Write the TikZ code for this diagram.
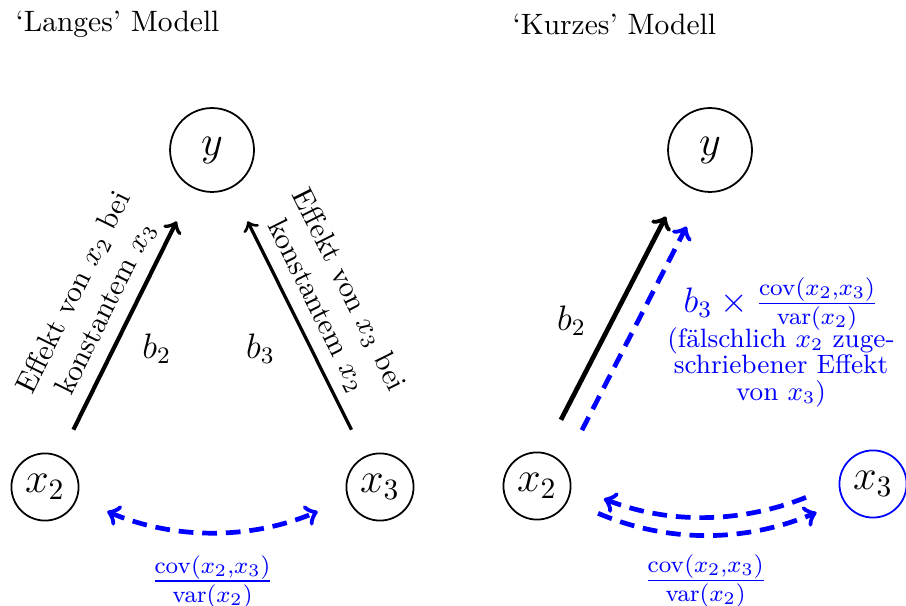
\documentclass[tikz,border=0pt]{standalone}
\usepackage{amsmath}
\usetikzlibrary{positioning}
\definecolor{colCov}{RGB}{0,0,255}
\tikzset{
  % circles for the variables
  varNode/.style={circle, draw, semithick, font=\Large,
                  minimum size=0.8cm, inner sep=2pt},
  varY/.style={varNode, minimum size=1cm},
  % arrows
  effArr/.style={->, line width=1.4pt, shorten <=10pt, shorten >=12.5pt},
  covArr/.style={->, draw=colCov, line width=1.6pt,
                 dash pattern=on 5pt off 3pt,
                 shorten <=11pt, shorten >=11pt},
  % labels
  effLbl/.style={midway, sloped, above, align=center},
  coefLbl/.style={font=\large},
  covLbl/.style={midway, text=colCov, font=\large},
  titleLbl/.style={anchor=base west},
}

\begin{document}
\begin{tikzpicture}
\useasboundingbox (0,0) rectangle (10.794,-7.208);

% ═══════════════════════════════════════════════════════════════════
%  TITLES
% ═══════════════════════════════════════════════════════════════════
\node[titleLbl] (tLang) at (0.062,-0.381) {`Langes' Modell};
\node[titleLbl] (tKurz) at (5.983,-0.417) {`Kurzes' Modell};

% ═══════════════════════════════════════════════════════════════════
%  LEFT – langes Modell
% ═══════════════════════════════════════════════════════════════════
\node[varY]    (ly)  at (2.526,-1.787) {$y$};
\node[varNode] (lx2) at (0.536,-5.802) {$x_2$};
\node[varNode] (lx3) at (4.527,-5.802) {$x_3$};

\draw[effArr] (lx2) --
  node[effLbl, pos=0.51] {Effekt von $x_2$ bei\\ konstantem $x_3$}
  node[coefLbl, pos=0.4, right=5.8pt] {$b_2$} (ly);
\draw[effArr, line width=1.1pt] (lx3) --
  node[effLbl, pos=0.52] {Effekt von $x_3$ bei\\ konstantem $x_2$}
  node[coefLbl, pos=0.4, left=8.4pt] {$b_3$} (ly);

% covariance between the regressors
\draw[covArr, <->] (lx2.-20) to[bend right=23]
  node[covLbl, below=4.6pt] {$\frac{\mathrm{cov}(x_2,x_3)}{\mathrm{var}(x_2)}$}
  (lx3.200);

% ═══════════════════════════════════════════════════════════════════
%  RIGHT – kurzes Modell
% ═══════════════════════════════════════════════════════════════════
\node[varY]                  (ry)  at (8.459,-1.787)  {$y$};
\node[varNode]               (rx2) at (6.398,-5.790)  {$x_2$};
\node[varNode, draw=colCov]  (rx3) at (10.401,-5.766) {$x_3$};

\draw[effArr, line width=1.6pt, shorten <=12.4pt, shorten >=12.7pt]
  (rx2.78) -- node[coefLbl, pos=0.49, left=4.8pt] {$b_2$} (ry.231);

% omitted variable bias
\draw[covArr, shorten <=13.2pt, shorten >=13pt] (rx2.38) --
  node[pos=0.45, right=9.5pt, align=center, text=colCov, font=\small]
  {{\large $b_3\times\frac{\mathrm{cov}(x_2,x_3)}{\mathrm{var}(x_2)}$}\\[-2pt]
   (fälschlich $x_2$ zuge-\\[-2pt]
   schriebener Effekt\\[-2pt]
   von $x_3$)}
  (ry.262);

\draw[covArr, <-, shorten <=11.8pt, shorten >=10.5pt]
  (rx2.0) to[bend right=22] (rx3.180);
\draw[covArr, shorten <=11pt, shorten >=9.8pt]
  (rx2.-25) to[bend right=23]
  node[covLbl, below=3.4pt] {$\frac{\mathrm{cov}(x_2,x_3)}{\mathrm{var}(x_2)}$}
  (rx3.210);

\end{tikzpicture}
\end{document}
